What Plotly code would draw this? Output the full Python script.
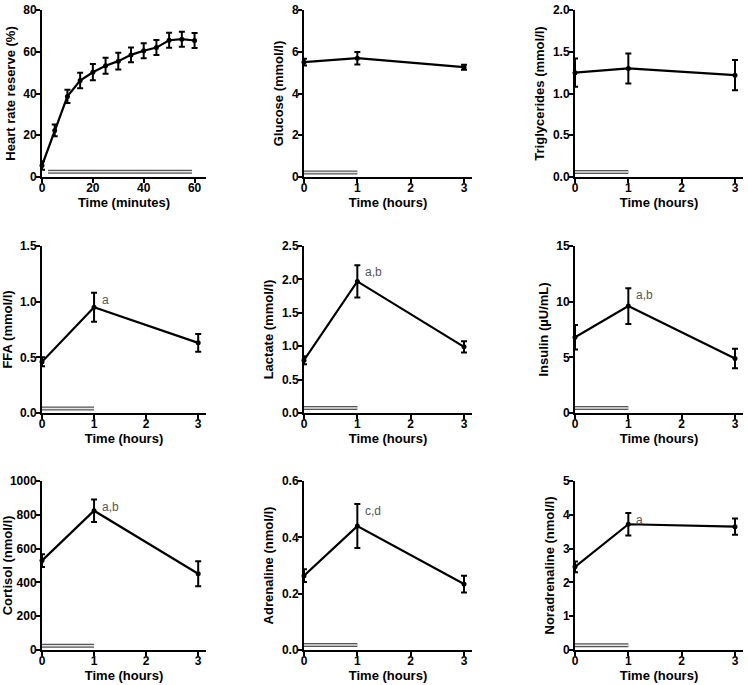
import plotly.graph_objects as go
from plotly.subplots import make_subplots

W, H = 748, 685

# heart rate reserve over the 60 min session
hr_time = [0, 5, 10, 15, 20, 25, 30, 35, 40, 45, 50, 55, 60]
hr_mean = [5.5, 22.3, 38.6, 46.2, 50.2, 53.3, 55.5, 58.5, 60.5, 62.0, 65.5, 66.0, 65.4]
hr_sem = [2.0, 2.8, 3.2, 3.7, 3.9, 3.8, 4.0, 3.5, 3.6, 3.6, 3.6, 3.6, 3.6]

# blood markers at 0, 1 and 3 hours
hours = [0, 1, 3]
glucose = [5.50, 5.69, 5.26]
glucose_sem = [0.16, 0.30, 0.12]
trig = [1.25, 1.30, 1.22]
trig_sem = [0.17, 0.18, 0.18]
ffa = [0.46, 0.95, 0.63]
ffa_sem = [0.04, 0.13, 0.08]
lactate = [0.79, 1.97, 0.99]
lactate_sem = [0.06, 0.24, 0.085]
insulin = [6.8, 9.6, 4.9]
insulin_sem = [1.1, 1.6, 0.87]
cortisol = [529, 824, 451]
cortisol_sem = [38, 66, 74]
adrenaline = [0.264, 0.44, 0.234]
adrenaline_sem = [0.023, 0.078, 0.03]
noradrenaline = [2.46, 3.72, 3.65]
noradrenaline_sem = [0.16, 0.33, 0.24]

# exercise period bar (start, end, level)
hr_bar = [2.4, 59, 2.5]
hour_bar = [0, 1]
bar_levels = [0.22, 0.06, 0.04, 0.075, 0.45, 25, 0.018, 0.14]

panels = [
    ("Heart rate reserve (%)", hr_time, hr_mean, hr_sem, [0, 80], [0, 20, 40, 60, 80], None),
    ("Glucose (mmol/l)", hours, glucose, glucose_sem, [0, 8], [0, 2, 4, 6, 8], None),
    ("Triglycerides (mmol/l)", hours, trig, trig_sem, [0, 2], [0, 0.5, 1.0, 1.5, 2.0], None),
    ("FFA (mmol/l)", hours, ffa, ffa_sem, [0, 1.5], [0, 0.5, 1.0, 1.5], "a"),
    ("Lactate (mmol/l)", hours, lactate, lactate_sem, [0, 2.5], [0, 0.5, 1.0, 1.5, 2.0, 2.5], "a,b"),
    ("Insulin (\u00b5U/mL)", hours, insulin, insulin_sem, [0, 15], [0, 5, 10, 15], "a,b"),
    ("Cortisol (nmol/l)", hours, cortisol, cortisol_sem, [0, 1000], [0, 200, 400, 600, 800, 1000], "a,b"),
    ("Adrenaline (nmol/l)", hours, adrenaline, adrenaline_sem, [0, 0.6], [0, 0.2, 0.4, 0.6], "c,d"),
    ("Noradrenaline (nmol/l)", hours, noradrenaline, noradrenaline_sem, [0, 5], [0, 1, 2, 3, 4, 5], "a"),
]
one_decimal = [2, 3, 4, 7]  # panels whose y ticks read 0.0, 0.5 ...

col_px = [(42, 206), (304, 472), (575, 743)]
row_px = [(10, 177), (246, 413), (481, 650)]

fig = make_subplots(rows=3, cols=3)

tick_font = dict(family="Liberation Sans, Arial", size=12, color="black", weight="bold")
title_font = dict(family="Liberation Sans, Arial", size=13, color="black", weight="bold")

for i, (title, x, y, e, yr, yt, lab) in enumerate(panels):
    r, c = i // 3 + 1, i % 3 + 1
    # exercise bar
    if i == 0:
        bx, lev = hr_bar[:2], hr_bar[2]
    else:
        bx, lev = hour_bar, bar_levels[i - 1]
    fig.add_trace(go.Scatter(x=bx, y=[lev, lev], mode="lines",
                             line=dict(color="#555555", width=4),
                             hoverinfo="skip", showlegend=False), row=r, col=c)
    fig.add_trace(go.Scatter(x=bx, y=[lev, lev], mode="lines",
                             line=dict(color="#e6e6e6", width=1.5),
                             hoverinfo="skip", showlegend=False), row=r, col=c)
    fig.add_trace(go.Scatter(
        x=x, y=y, mode="lines+markers",
        line=dict(color="black", width=2.2),
        marker=dict(color="black", size=5),
        error_y=dict(type="data", array=e, color="black", thickness=2, width=3),
        cliponaxis=False, showlegend=False), row=r, col=c)

    xa = "xaxis" if i == 0 else f"xaxis{i+1}"
    ya = "yaxis" if i == 0 else f"yaxis{i+1}"
    x0, x1 = col_px[c - 1]
    y0, y1 = row_px[r - 1]
    if i == 0:
        xrange, xticks, xtitle = [0, 64.5], [0, 20, 40, 60], "Time (minutes)"
    else:
        xrange, xticks, xtitle = [0, 3.15], [0, 1, 2, 3], "Time (hours)"
    ytext = [f"{v:.1f}" if i in one_decimal else f"{v:g}" for v in yt]
    fig.layout[xa].update(domain=[x0 / W, x1 / W], range=xrange, tickvals=xticks,
                          ticklabelstandoff=-5,
                          title=dict(text=xtitle, font=title_font, standoff=3))
    fig.layout[ya].update(domain=[1 - y1 / H, 1 - y0 / H], range=yr, tickvals=yt, ticktext=ytext,
                          ticklabelstandoff=-3,
                          title=dict(text=title, font=title_font, standoff=5))
    if lab:
        fig.add_annotation(x=x[1], y=y[1] + e[1], xref=xa.replace("axis", ""), yref=ya.replace("axis", ""),
                           text=lab, showarrow=False, xanchor="left", yanchor="top",
                           xshift=6, yshift=2,
                           font=dict(family="Liberation Sans, Arial", size=12, color="#555555"))

fig.update_xaxes(showgrid=False, zeroline=False, showline=True, linecolor="black", linewidth=2,
                 ticks="outside", ticklen=4, tickwidth=2, tickcolor="black", tickfont=tick_font,
                 automargin=False)
fig.update_yaxes(showgrid=False, zeroline=False, showline=True, linecolor="black", linewidth=2,
                 ticks="outside", ticklen=4, tickwidth=2, tickcolor="black", tickfont=tick_font,
                 automargin=False)

fig.update_layout(width=W, height=H, margin=dict(l=0, r=0, t=0, b=0, autoexpand=False),
                  plot_bgcolor="white", paper_bgcolor="white", showlegend=False)

# page body has a default 8px margin; drop it so the figure fills the window
fig.write_html("out.html", config={"displayModeBar": False},
               post_script="document.body.style.margin='0';")
